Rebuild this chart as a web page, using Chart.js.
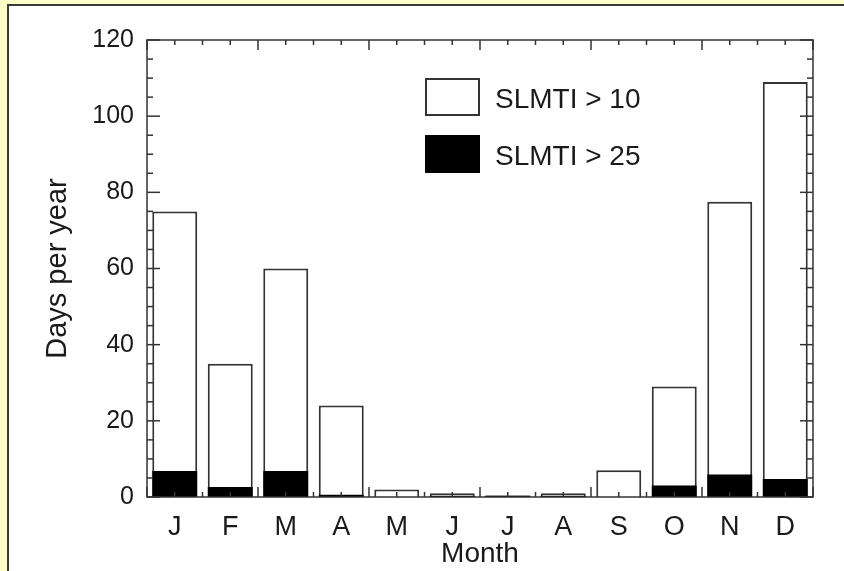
<!DOCTYPE html>
<html><head><meta charset="utf-8">
<script src="https://cdn.jsdelivr.net/npm/chart.js@4/dist/chart.umd.min.js"></script>
<style>
html,body{margin:0;padding:0;background:#ffffc8;width:844px;height:571px;overflow:hidden;}
#panel{position:absolute;left:7px;top:4px;width:837px;height:567px;background:#fff;border-left:2px solid #3a3a3a;border-top:2px solid #3a3a3a;box-sizing:border-box;}
#c{position:absolute;left:0;top:0;}
#legend{position:absolute;left:425px;top:78px;font-family:"Liberation Sans",Arial,sans-serif;font-size:28px;color:#1a1a1a;}
.item{display:flex;align-items:center;height:38px;margin-bottom:19px;}
.box{width:55px;height:38px;box-sizing:border-box;border:2px solid #333;margin-right:15px;}
.item span{position:relative;top:2px;}
</style></head>
<body>
<div id="panel"></div>
<canvas id="c" width="844" height="571"></canvas>
<div id="legend"></div>
<script>
const months = ['J','F','M','A','M','J','J','A','S','O','N','D'];
const slmti10 = [75, 35, 60, 24, 2, 1, 0.4, 1, 7, 29, 77.5, 109];
const slmti25 = [6.8, 2.6, 6.8, 0.6, 0, 0.3, 0.3, 0.3, 0, 3, 5.9, 4.7];
const seriesNames = ['SLMTI > 10', 'SLMTI > 25'];

const FONT = '"Liberation Sans", Arial, Helvetica, sans-serif';
const TXT = '#1a1a1a';

const frame = {
  id: 'frame',
  afterDatasetsDraw(chart) {
    const {ctx, chartArea: {left, right, top, bottom}, scales: {x, y}} = chart;
    ctx.save();
    ctx.strokeStyle = '#333';
    ctx.lineWidth = 1.5;
    const line = (x1, y1, x2, y2) => { ctx.beginPath(); ctx.moveTo(x1, y1); ctx.lineTo(x2, y2); ctx.stroke(); };
    for (let v = y.min; v <= y.max; v += 5) {
      const py = y.getPixelForValue(v);
      const len = v % 20 === 0 ? 13 : 6;
      line(left, py, left + len, py);
      line(right, py, right - len, py);
    }
    for (let k = 0; k <= months.length * 2; k++) {
      const px = x.getPixelForValue(k / 2 - 0.5);
      const len = k % 4 === 0 ? 10 : 5;
      line(px, bottom, px, bottom - len);
      line(px, top, px, top + len);
    }
    ctx.strokeRect(left, top, right - left, bottom - top);
    ctx.restore();
  }
};

const chart = new Chart(document.getElementById('c'), {
  type: 'bar',
  data: {
    labels: months,
    datasets: [
      { label: seriesNames[0], data: slmti10, backgroundColor: '#ffffff', borderColor: '#333', borderWidth: 2, order: 1 },
      { label: seriesNames[1], data: slmti25, backgroundColor: '#000000', borderColor: '#000', borderWidth: 0, order: 0 }
    ]
  },
  options: {
    responsive: false,
    animation: false,
    devicePixelRatio: 1,
    layout: { padding: { left: 0, top: 40, right: 31, bottom: 0 } },
    datasets: { bar: { grouped: false, barPercentage: 0.81, categoryPercentage: 1.0 } },
    plugins: { legend: { display: false }, tooltip: { enabled: false } },
    scales: {
      x: {
        grid: { display: false, drawTicks: false },
        border: { display: false },
        ticks: { font: { family: FONT, size: 27 }, color: TXT, padding: 14, maxRotation: 0, autoSkip: false },
        title: { display: true, text: 'Month', font: { family: FONT, size: 28 }, color: TXT, padding: { top: 0, bottom: 0 } },
        afterFit(s) { s.height = 74; }
      },
      y: {
        min: 0, max: 120,
        grid: { display: false, drawTicks: false },
        border: { display: false },
        ticks: { stepSize: 20, font: { family: FONT, size: 25 }, color: TXT, padding: 13 },
        title: { display: true, text: 'Days per year', font: { family: FONT, size: 29 }, color: TXT, padding: { top: 41, bottom: 0 } },
        afterFit(s) { s.width = 147; }
      }
    }
  },
  plugins: [frame]
});

const leg = document.getElementById('legend');
chart.data.datasets.forEach(ds => {
  const it = document.createElement('div'); it.className = 'item';
  const b = document.createElement('div'); b.className = 'box'; b.style.background = ds.backgroundColor;
  if (ds.backgroundColor === '#000000') b.style.borderColor = '#000';
  const t = document.createElement('span'); t.textContent = ds.label;
  it.appendChild(b); it.appendChild(t); leg.appendChild(it);
});
</script>
</body></html>
